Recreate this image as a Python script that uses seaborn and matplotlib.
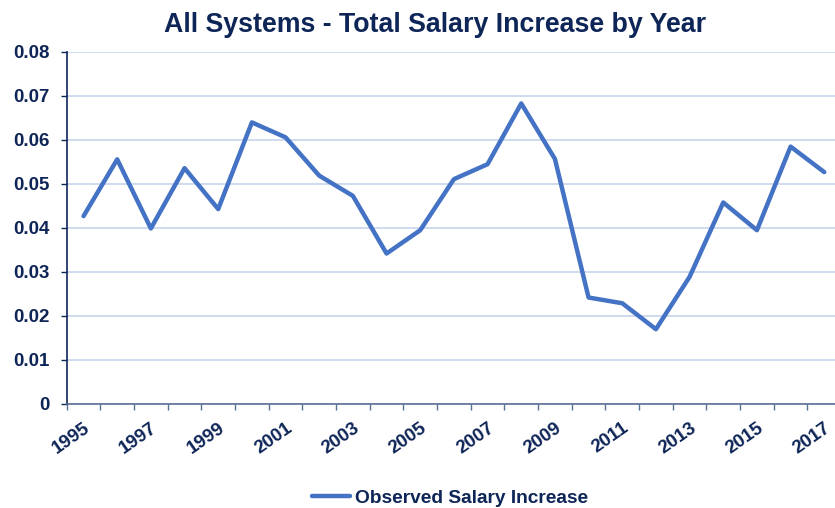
import matplotlib
matplotlib.use("Agg")
import matplotlib.pyplot as plt
import numpy as np
import pandas as pd
import seaborn as sns

years = list(range(1995, 2018))
salary_increase = [0.0427, 0.0556, 0.0399, 0.0536, 0.0443, 0.0640, 0.0606, 0.0519,
                   0.0473, 0.0342, 0.0395, 0.0511, 0.0545, 0.0683, 0.0557, 0.0242,
                   0.0229, 0.0170, 0.0289, 0.0458, 0.0395, 0.0585, 0.0527]
label_years = [str(y) for y in range(1995, 2018, 2)]

navy = "#0e2557"
line_blue = "#4472c4"
grid_blue = "#c6d4eb"

sns.set_style("white")
plt.rcParams["font.family"] = ["Liberation Sans", "DejaVu Sans"]
plt.rcParams["font.weight"] = "bold"

df = pd.DataFrame({"Year": years, "Increase": salary_increase})

fig = plt.figure(figsize=(8.35, 5.08), dpi=100)
ax = fig.add_axes([66.7 / 835, 104 / 508, 774.4 / 835, 352 / 508])

sns.lineplot(data=df, x="Year", y="Increase", ax=ax, color=line_blue, linewidth=3.2,
             label="Observed Salary Increase", legend=False)

ax.set_xlim(1994.5, 2017.5)
ax.set_ylim(0, 0.08)
ax.set_yticks(np.arange(0, 0.081, 0.01))
ax.set_yticklabels(["0"] + ["%.2f" % v for v in np.arange(0.01, 0.081, 0.01)])
ax.yaxis.grid(True, color=grid_blue, linewidth=1.2)
ax.set_axisbelow(True)

# tick marks sit on category boundaries, labels on odd-year centres
ax.set_xticks(np.arange(1994.5, 2018, 1), minor=True)
ax.set_xticks(range(1995, 2018, 2))
ax.set_xticklabels(label_years, rotation=35, ha="right", va="top",
                   rotation_mode="anchor")
ax.tick_params(axis="x", which="major", bottom=True, length=0, pad=11,
               labelsize=13.5, labelcolor=navy)
ax.tick_params(axis="x", which="minor", bottom=True, length=4, width=1,
               color="#5a6f96", direction="out")
ax.tick_params(axis="y", left=True, length=4, width=1, color=navy, direction="out",
               labelsize=13.5, labelcolor=navy, pad=8)

for s in ["top", "right"]:
    ax.spines[s].set_visible(False)
ax.spines["left"].set_color(navy)
ax.spines["left"].set_linewidth(1.2)
ax.spines["bottom"].set_color("#5a6f96")
ax.spines["bottom"].set_linewidth(1.2)
ax.set_xlabel("")
ax.set_ylabel("")

fig.text(435 / 835, 1 - 25 / 508, "All Systems - Total Salary Increase by Year",
         ha="center", va="center", fontsize=19.3, fontweight="bold", color=navy)

handles, labels = ax.get_legend_handles_labels()
fig.legend(handles, labels, loc="center", bbox_to_anchor=(450 / 835, 1 - 498 / 508),
           frameon=False, fontsize=13.8, handlelength=2.0, handletextpad=0.25,
           labelcolor=navy)

fig.savefig("out.png", dpi=100)
